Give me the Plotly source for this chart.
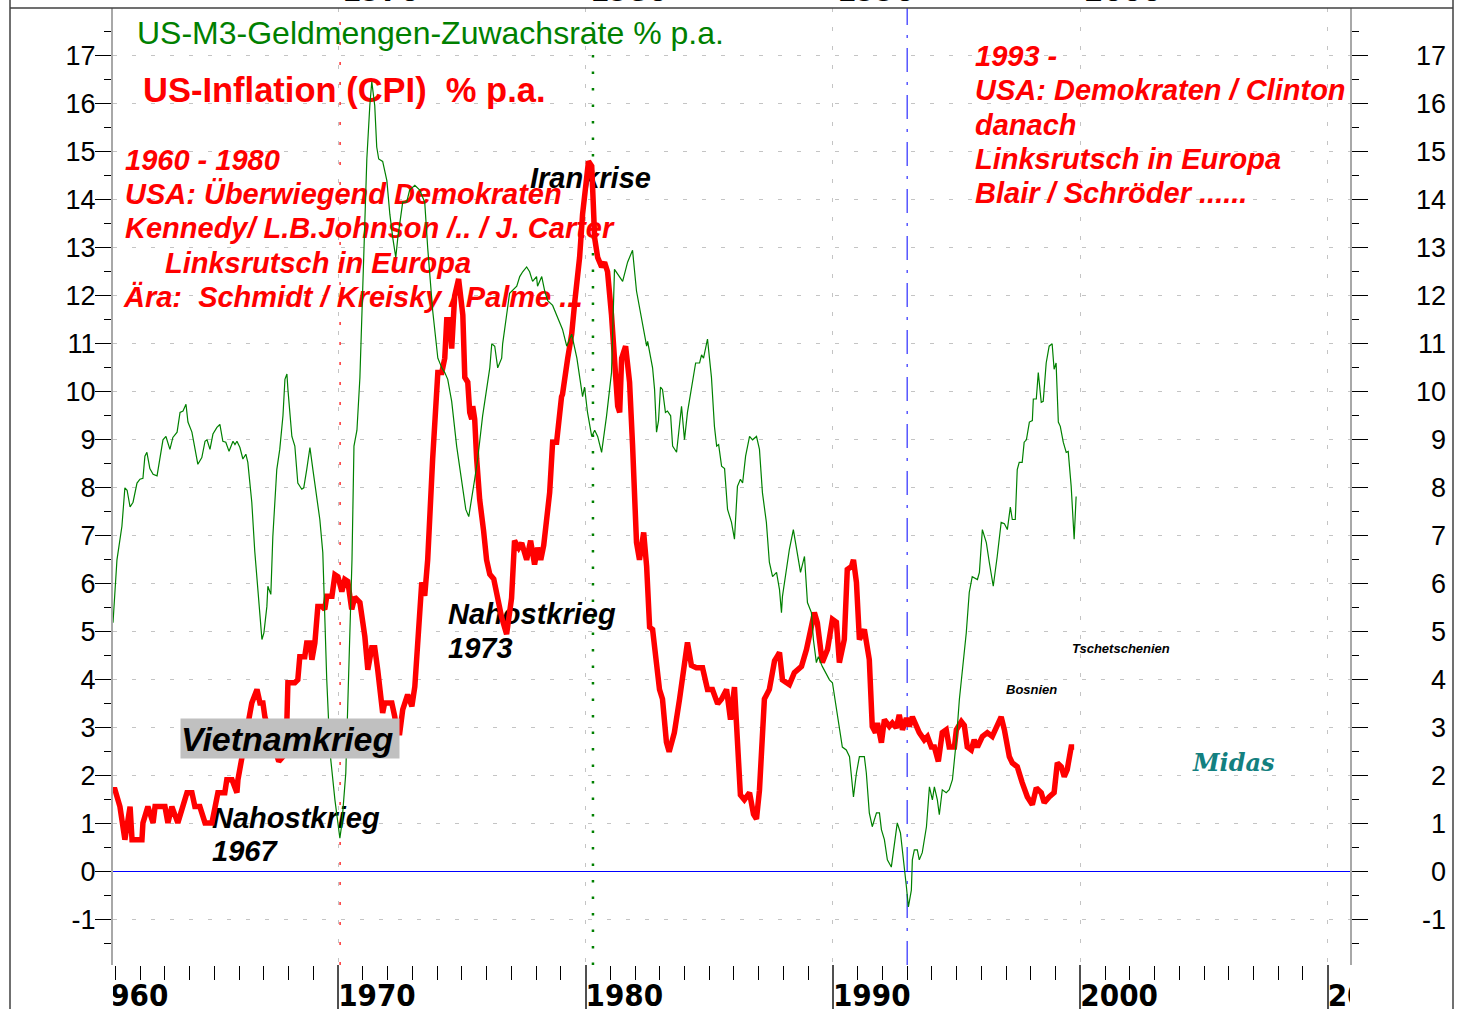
import plotly.graph_objects as go

# ---------------- data ----------------
cpi_years = [1960.90, 1960.98, 1961.18, 1961.38, 1961.59, 1961.67, 1962.07, 1962.11, 1962.31, 1962.52,
             1962.60, 1963.00, 1963.12, 1963.28, 1963.52, 1963.69, 1963.89, 1964.09, 1964.21, 1964.41,
             1964.62, 1964.90, 1965.02, 1965.14, 1965.42, 1965.50, 1965.71, 1965.91, 1965.95, 1966.11,
             1966.30, 1966.51, 1966.72, 1966.84, 1966.96, 1967.04, 1967.35, 1967.60, 1967.77, 1967.93,
             1967.97, 1968.25, 1968.37, 1968.45, 1968.65, 1968.73, 1968.86, 1968.94, 1969.06, 1969.18,
             1969.34, 1969.46, 1969.54, 1969.75, 1969.87, 1969.99, 1970.15, 1970.27, 1970.39, 1970.55,
             1970.67, 1970.88, 1971.08, 1971.20, 1971.36, 1971.48, 1971.60, 1971.80, 1971.88, 1972.17,
             1972.29, 1972.37, 1972.49, 1972.61, 1972.81, 1972.98, 1973.10, 1973.30, 1973.38, 1973.50,
             1973.62, 1973.82, 1974.03, 1974.19, 1974.31, 1974.39, 1974.51, 1974.59, 1974.71, 1974.87,
             1975.04, 1975.12, 1975.24, 1975.32, 1975.40, 1975.44, 1975.52, 1975.60, 1975.72, 1975.88,
             1976.00, 1976.13, 1976.29, 1976.45, 1976.61, 1976.81, 1977.01, 1977.13, 1977.30, 1977.42,
             1977.62, 1977.78, 1977.94, 1978.06, 1978.19, 1978.31, 1978.43, 1978.55, 1978.67, 1978.83,
             1979.03, 1979.07, 1979.28, 1979.44, 1979.57, 1979.65, 1979.76, 1979.88, 1980.04, 1980.12,
             1980.25, 1980.29, 1980.37, 1980.49, 1980.65, 1980.77, 1980.89, 1981.05, 1981.17, 1981.30,
             1981.38, 1981.46, 1981.62, 1981.70, 1981.78, 1981.90, 1982.06, 1982.18, 1982.35, 1982.47,
             1982.59, 1982.71, 1982.91, 1982.99, 1983.11, 1983.27, 1983.38, 1983.59, 1983.80, 1983.96,
             1984.12, 1984.28, 1984.48, 1984.73, 1984.93, 1985.13, 1985.34, 1985.50, 1985.70, 1985.86,
             1986.02, 1986.10, 1986.18, 1986.26, 1986.42, 1986.63, 1986.79, 1986.91, 1987.03, 1987.23,
             1987.43, 1987.64, 1987.76, 1987.84, 1987.96, 1988.24, 1988.44, 1988.73, 1988.93, 1989.25,
             1989.37, 1989.57, 1989.78, 1989.98, 1990.14, 1990.26, 1990.46, 1990.58, 1990.75, 1990.83,
             1990.95, 1991.07, 1991.27, 1991.47, 1991.59, 1991.72, 1991.80, 1991.96, 1992.08, 1992.28,
             1992.40, 1992.56, 1992.68, 1992.81, 1992.97, 1993.09, 1993.21, 1993.37, 1993.49, 1993.69,
             1993.82, 1993.98, 1994.10, 1994.26, 1994.42, 1994.58, 1994.70, 1994.91, 1994.99, 1995.19,
             1995.31, 1995.43, 1995.59, 1995.71, 1995.84, 1996.04, 1996.24, 1996.44, 1996.60, 1996.80,
             1996.93, 1997.13, 1997.25, 1997.45, 1997.65, 1997.86, 1998.06, 1998.22, 1998.42, 1998.54,
             1998.74, 1998.94, 1999.07, 1999.23, 1999.35, 1999.47, 1999.63, 1999.75]
cpi_values = [1.71, 1.71, 1.36, 0.67, 1.36, 0.67, 0.67, 1.02, 1.36, 1.02,
              1.36, 1.36, 1.02, 1.36, 1.02, 1.36, 1.65, 1.65, 1.36, 1.36,
              1.02, 1.02, 1.36, 1.65, 1.65, 1.92, 1.92, 1.65, 1.92, 2.34,
              2.90, 3.52, 3.80, 3.52, 3.52, 3.23, 2.70, 2.30, 2.40, 3.17,
              3.94, 3.94, 4.00, 4.48, 4.48, 4.77, 4.77, 4.42, 4.77, 5.53,
              5.53, 5.47, 5.74, 5.74, 6.19, 6.15, 5.84, 6.09, 6.05, 5.47,
              5.72, 5.61, 4.90, 4.21, 4.67, 4.67, 4.21, 3.31, 3.52, 3.52,
              3.23, 2.90, 2.90, 3.38, 3.69, 3.45, 3.86, 5.67, 6.03, 5.75,
              6.50, 8.60, 10.40, 10.40, 10.70, 11.50, 11.50, 10.90, 12.00, 12.35,
              11.60, 10.30, 10.20, 9.57, 9.43, 9.70, 9.43, 8.60, 7.76, 7.10,
              6.50, 6.20, 6.10, 5.70, 5.30, 4.95, 5.70, 6.90, 6.75, 6.85,
              6.50, 6.90, 6.40, 6.75, 6.50, 6.80, 7.30, 7.90, 8.95, 8.95,
              9.90, 9.95, 10.70, 11.20, 11.90, 12.20, 12.80, 13.70, 14.50, 14.80,
              14.70, 14.30, 13.20, 12.80, 12.60, 12.70, 12.50, 11.60, 10.50, 9.70,
              9.57, 10.70, 10.95, 10.60, 10.20, 8.90, 6.86, 6.50, 7.07, 6.36,
              5.10, 5.05, 4.20, 3.80, 3.60, 2.70, 2.50, 2.90, 3.60, 4.20,
              4.78, 4.30, 4.25, 4.25, 3.80, 3.80, 3.50, 3.60, 3.80, 3.17,
              3.85, 3.10, 2.20, 1.60, 1.50, 1.65, 1.20, 1.10, 1.70, 3.60,
              3.80, 4.40, 4.50, 4.57, 4.00, 3.90, 4.15, 4.28, 4.63, 5.40,
              5.19, 4.36, 4.63, 5.26, 5.20, 4.36, 4.84, 6.30, 6.36, 6.50,
              6.03, 4.84, 5.05, 4.42, 3.03, 2.90, 3.10, 2.69, 3.17, 3.03,
              3.10, 3.00, 3.27, 2.96, 3.20, 3.03, 3.23, 3.03, 2.90, 2.75,
              2.82, 2.60, 2.60, 2.30, 2.90, 2.96, 2.60, 2.60, 2.96, 3.13,
              3.05, 2.60, 2.54, 2.75, 2.60, 2.82, 2.90, 2.82, 3.03, 3.23,
              2.96, 2.40, 2.27, 2.19, 1.86, 1.56, 1.40, 1.75, 1.65, 1.44,
              1.56, 1.65, 2.27, 2.19, 1.98, 2.13, 2.60, 2.60]

m3_years = [1960.90, 1961.06, 1961.26, 1961.38, 1961.47, 1961.59, 1961.71, 1961.87, 1961.99, 1962.11,
            1962.19, 1962.27, 1962.39, 1962.52, 1962.68, 1962.80, 1962.92, 1963.04, 1963.20, 1963.32,
            1963.49, 1963.61, 1963.73, 1963.85, 1963.93, 1964.09, 1964.21, 1964.33, 1964.49, 1964.62,
            1964.70, 1964.82, 1964.94, 1965.10, 1965.22, 1965.34, 1965.46, 1965.59, 1965.75, 1965.83,
            1965.91, 1966.03, 1966.15, 1966.27, 1966.35, 1966.51, 1966.63, 1966.76, 1966.92, 1967.00,
            1967.12, 1967.16, 1967.28, 1967.36, 1967.52, 1967.64, 1967.77, 1967.85, 1967.93, 1967.97,
            1968.13, 1968.25, 1968.37, 1968.53, 1968.61, 1968.73, 1968.86, 1968.98, 1969.14, 1969.26,
            1969.38, 1969.54, 1969.67, 1969.87, 1970.07, 1970.15, 1970.31, 1970.56, 1970.64, 1970.76,
            1970.88, 1971.00, 1971.16, 1971.28, 1971.36, 1971.48, 1971.56, 1971.64, 1971.80, 1971.97,
            1972.09, 1972.21, 1972.33, 1972.41, 1972.57, 1972.61, 1972.77, 1972.89, 1973.10, 1973.30,
            1973.50, 1973.62, 1973.82, 1974.03, 1974.19, 1974.31, 1974.43, 1974.59, 1974.79, 1974.99,
            1975.16, 1975.28, 1975.40, 1975.52, 1975.64, 1975.84, 1976.13, 1976.21, 1976.33, 1976.45,
            1976.61, 1976.65, 1976.81, 1976.93, 1977.22, 1977.34, 1977.46, 1977.62, 1977.74, 1977.86,
            1978.02, 1978.06, 1978.23, 1978.35, 1978.47, 1978.67, 1978.95, 1979.07, 1979.24, 1979.44,
            1979.65, 1979.76, 1979.88, 1979.96, 1980.08, 1980.25, 1980.37, 1980.49, 1980.65, 1980.85,
            1981.05, 1981.17, 1981.38, 1981.50, 1981.70, 1981.90, 1982.06, 1982.30, 1982.47, 1982.51,
            1982.71, 1982.79, 1982.87, 1982.95, 1983.03, 1983.11, 1983.23, 1983.31, 1983.44, 1983.52,
            1983.68, 1983.88, 1984.00, 1984.12, 1984.28, 1984.32, 1984.45, 1984.61, 1984.69, 1984.77,
            1984.93, 1985.09, 1985.21, 1985.30, 1985.38, 1985.50, 1985.62, 1985.74, 1985.90, 1986.02,
            1986.14, 1986.26, 1986.35, 1986.47, 1986.63, 1986.75, 1986.91, 1987.03, 1987.15, 1987.31,
            1987.43, 1987.56, 1987.72, 1987.84, 1987.92, 1987.96, 1988.12, 1988.24, 1988.40, 1988.52,
            1988.69, 1988.85, 1988.97, 1989.13, 1989.21, 1989.33, 1989.41, 1989.57, 1989.86, 1989.98,
            1990.18, 1990.38, 1990.54, 1990.67, 1990.83, 1990.95, 1991.07, 1991.27, 1991.35, 1991.47,
            1991.59, 1991.76, 1991.88, 1991.96, 1992.08, 1992.20, 1992.36, 1992.48, 1992.60, 1992.73,
            1992.85, 1992.97, 1993.05, 1993.17, 1993.21, 1993.29, 1993.41, 1993.49, 1993.61, 1993.78,
            1993.90, 1994.02, 1994.10, 1994.22, 1994.30, 1994.42, 1994.58, 1994.70, 1994.83, 1994.99,
            1995.11, 1995.23, 1995.39, 1995.51, 1995.63, 1995.84, 1995.92, 1996.04, 1996.20, 1996.32,
            1996.48, 1996.64, 1996.80, 1996.93, 1997.05, 1997.17, 1997.25, 1997.37, 1997.45, 1997.53,
            1997.65, 1997.73, 1997.82, 1997.94, 1998.06, 1998.10, 1998.22, 1998.30, 1998.42, 1998.50,
            1998.62, 1998.74, 1998.86, 1998.94, 1999.02, 1999.11, 1999.19, 1999.31, 1999.43, 1999.51,
            1999.63, 1999.75, 1999.83]
m3_values = [5.19, 6.50, 7.20, 8.00, 7.95, 7.60, 7.70, 8.10, 8.18, 8.20,
             8.66, 8.74, 8.40, 8.28, 8.25, 8.60, 9.00, 9.07, 8.80, 9.05,
             9.16, 9.57, 9.60, 9.74, 9.37, 9.16, 8.80, 8.49, 8.63, 8.97,
             9.00, 8.80, 9.12, 9.26, 9.32, 8.97, 8.95, 8.76, 8.97, 8.90,
             8.97, 8.84, 8.60, 8.70, 8.53, 7.70, 6.68, 5.82, 4.84, 4.98,
             5.53, 5.95, 5.78, 6.98, 8.38, 8.80, 9.50, 10.26, 10.37, 10.05,
             9.07, 8.87, 8.10, 7.97, 8.00, 8.38, 8.84, 8.38, 7.82, 7.34,
             6.65, 4.00, 2.50, 1.50, 0.70, 1.00, 2.06, 6.50, 8.87, 9.20,
             10.30, 12.35, 14.85, 15.96, 16.46, 15.96, 15.10, 14.85, 14.80, 14.40,
             13.70, 13.20, 12.80, 13.20, 13.80, 13.95, 13.95, 14.20, 14.30, 14.20,
             13.95, 13.00, 11.70, 10.70, 10.50, 10.40, 10.26, 9.80, 8.87, 8.20,
             7.55, 7.40, 7.76, 8.18, 8.60, 9.50, 10.50, 11.00, 10.95, 10.50,
             10.70, 11.00, 11.60, 12.05, 12.20, 12.40, 12.50, 12.60, 12.50, 12.30,
             12.40, 12.20, 12.40, 12.10, 11.90, 11.80, 11.45, 11.30, 10.95, 11.20,
             10.70, 10.30, 9.90, 10.10, 9.57, 9.07, 9.20, 9.07, 8.74, 9.50,
             10.40, 12.55, 12.40, 12.30, 12.70, 12.95, 12.10, 11.45, 10.95, 11.05,
             10.50, 10.05, 9.16, 9.40, 10.10, 10.05, 9.57, 9.60, 9.50, 8.87,
             8.74, 9.70, 9.00, 9.57, 10.10, 10.20, 10.60, 10.60, 10.77, 10.70,
             11.10, 10.30, 9.28, 8.87, 8.90, 8.45, 8.40, 7.55, 7.28, 6.93,
             8.03, 8.18, 8.10, 8.66, 9.07, 9.00, 9.07, 8.80, 7.90, 7.28,
             6.45, 6.15, 6.24, 5.88, 5.40, 5.74, 6.36, 6.72, 7.13, 6.72,
             6.24, 6.57, 5.61, 5.40, 4.84, 4.36, 4.48, 4.28, 4.00, 3.94,
             3.31, 2.60, 2.54, 2.40, 1.56, 2.06, 2.40, 2.40, 2.06, 1.23,
             0.94, 1.23, 1.23, 0.88, 0.67, 0.25, 0.10, 0.52, 1.02, 0.81,
             0.31, -0.31, -0.73, -0.38, 0.25, 0.46, 0.46, 0.25, 0.40, 0.94,
             1.77, 1.50, 1.77, 1.50, 1.19, 1.71, 1.65, 1.71, 1.92, 2.75,
             3.59, 4.15, 4.98, 5.82, 6.15, 6.09, 6.24, 7.13, 6.86, 6.45,
             5.95, 6.57, 7.28, 7.25, 7.13, 7.60, 7.34, 7.34, 8.38, 8.53,
             8.53, 8.95, 9.00, 9.37, 9.40, 9.85, 9.85, 10.40, 9.78, 9.80,
             10.60, 10.95, 11.00, 10.47, 10.60, 9.37, 9.28, 8.95, 8.74, 8.76,
             8.03, 6.93, 7.82]

y_tick_values = list(range(-1, 18))
y_tick_labels = [str(v) for v in y_tick_values]
decade_values = [1960, 1970, 1980, 1990, 2000, 2010]
decade_labels = ["1960", "1970", "1980", "1990", "2000", "2010"]
top_decades = [1970, 1980, 1990, 2000]
event_years = {"red": 1970.08, "green": 1980.30, "blue": 1993.00}

# ---------------- geometry ----------------
W, H = 1468, 1009
PL, PR, PT, PB = 113, 1350, 8, 965          # plot area in pixels
X0, X1 = 1960.9, 2010.9
Y0, Y1 = -1.94, 17.995
FONT = "Liberation Sans, Arial, sans-serif"
COND = "DejaVu Sans Condensed, Liberation Sans Narrow, Liberation Sans"
DY = 3  # small vertical correction for text traces


def xd(px):
    return X0 + (px - PL) / (PR - PL) * (X1 - X0)


def yd(py):
    return Y1 - (py + DY - PT) / (PB - PT) * (Y1 - Y0)


fig = go.Figure()

# ---- text drawn underneath the curves (as in the reference) ----
RED = "#ff0000"
texts = [
    ("US-M3-Geldmengen-Zuwachsrate % p.a.", 137, 33, 32, "#008000", "normal", "normal"),
    ("US-Inflation (CPI) \u00a0% p.a.", 143, 90, 34.5, RED, "bold", "normal"),
    ("1960 - 1980", 125, 160, 29, RED, "bold", "italic"),
    ("USA: Überwiegend Demokraten", 125, 194, 29, RED, "bold", "italic"),
    ("Kennedy/ L.B.Johnson /.. / J. Carter", 125, 228, 29, RED, "bold", "italic"),
    ("Linksrutsch in Europa", 165, 263, 29, RED, "bold", "italic"),
    ("Ära: \u00a0Schmidt / Kreisky / Palme ...", 124, 297, 29, RED, "bold", "italic"),
    ("1993 -", 975, 56, 29, RED, "bold", "italic"),
    ("USA: Demokraten / Clinton", 975, 90, 29, RED, "bold", "italic"),
    ("danach", 975, 125, 29, RED, "bold", "italic"),
    ("Linksrutsch in Europa", 975, 159, 29, RED, "bold", "italic"),
    ("Blair / Schröder ......", 975, 193, 29, RED, "bold", "italic"),
    ("Irankrise", 530, 178, 29, "#000000", "bold", "italic"),
    ("Nahostkrieg", 448, 614, 29, "#000000", "bold", "italic"),
    ("1973", 448, 648, 29, "#000000", "bold", "italic"),
    ("Nahostkrieg", 212, 818, 29, "#000000", "bold", "italic"),
    ("1967", 212, 851, 29, "#000000", "bold", "italic"),
    ("Tschetschenien", 1072, 647, 13, "#000000", "bold", "italic"),
    ("Bosnien", 1006, 688, 13, "#000000", "bold", "italic"),
]
for t, px, py, size, color, weight, style in texts:
    fig.add_trace(go.Scatter(
        x=[xd(px)], y=[yd(py)], mode="text", text=[t], textposition="middle right",
        textfont=dict(family=FONT, size=size, color=color, weight=weight, style=style),
        hoverinfo="skip", showlegend=False, cliponaxis=False))

# ---- the two series ----
fig.add_trace(go.Scatter(x=cpi_years, y=cpi_values, mode="lines",
                         line=dict(color="#ff0000", width=5.5), hoverinfo="skip", showlegend=False))
fig.add_trace(go.Scatter(x=m3_years, y=m3_values, mode="lines",
                         line=dict(color="#008000", width=1.2), hoverinfo="skip", showlegend=False))

# ---- invisible trace for right axis ----
fig.add_trace(go.Scatter(x=[X0], y=[0], yaxis="y2", mode="markers", marker=dict(opacity=0),
                         hoverinfo="skip", showlegend=False))

# ---- decade labels in the bottom strip (clipped like the original) ----
fig.add_trace(go.Scatter(
    x=decade_values, y=[0.24] * len(decade_values), xaxis="x2", yaxis="y3", mode="text",
    text=decade_labels, textposition="middle right", cliponaxis=True,
    textfont=dict(family=COND, size=31, color="#000000", weight="bold"),
    hoverinfo="skip", showlegend=False))

grid_dash = "4px,15px"
dom_x = [PL / W, PR / W]
dom_y = [1 - PB / H, 1 - PT / H]

fig.update_layout(
    width=W, height=H, autosize=False,
    margin=dict(l=0, r=0, t=0, b=0, pad=0),
    paper_bgcolor="white", plot_bgcolor="rgba(0,0,0,0)",
    font=dict(family=FONT, color="black"),
    xaxis=dict(domain=dom_x, range=[X0, X1], anchor="y", showgrid=True, gridcolor="#c4c4c4",
               griddash=grid_dash, gridwidth=1, tick0=1960, dtick=10, ticks="outside", ticklen=16,
               tickcolor="#000000", tickwidth=1, showticklabels=False, zeroline=False, showline=False,
               minor=dict(dtick=1, tick0=1960, ticks="outside", ticklen=14, tickcolor="#000000",
                          showgrid=False)),
    yaxis=dict(domain=dom_y, range=[Y0, Y1], anchor="x", tickmode="array", tickvals=y_tick_values,
               ticktext=y_tick_labels, ticks="outside", ticklen=16, tickcolor="#000000",
               tickfont=dict(family=FONT, size=27, color="black"), ticklabelstandoff=-6,
               showgrid=True, gridcolor="#c4c4c4", griddash=grid_dash, gridwidth=1,
               zeroline=True, zerolinecolor="#0000ff", zerolinewidth=1,
               showline=True, linecolor="#a8a8a8", linewidth=2,
               minor=dict(dtick=0.5, tick0=0, ticks="outside", ticklen=7, tickcolor="#000000",
                          showgrid=False)),
    yaxis2=dict(overlaying="y", side="right", anchor="x", range=[Y0, Y1], tickmode="array",
                tickvals=y_tick_values, ticks="outside", ticklen=16, tickcolor="#000000",
                showticklabels=False, showgrid=False, zeroline=False,
                showline=True, linecolor="#a8a8a8", linewidth=2,
                minor=dict(dtick=0.5, tick0=0, ticks="outside", ticklen=7, tickcolor="#000000",
                           showgrid=False)),
    xaxis2=dict(domain=dom_x, range=[X0, X1], anchor="y3", showgrid=True, tick0=1960, dtick=10,
                gridcolor="#505050", gridwidth=1.5, showticklabels=False, ticks="", zeroline=False,
                showline=False),
    yaxis3=dict(domain=[0, 1 - PB / H], range=[0, 1], anchor="x2", visible=False),
    xaxis3=dict(domain=dom_x, range=[X0, X1], anchor="y4", showgrid=True, tick0=1960, dtick=10,
                gridcolor="#505050", gridwidth=1.5, showticklabels=False, ticks="", zeroline=False,
                showline=False),
    yaxis4=dict(domain=[1 - PT / H, 1], range=[0, 1], anchor="x3", visible=False),
)

# ---- event lines ----
fig.add_shape(type="line", xref="x", yref="paper", x0=event_years["red"], x1=event_years["red"],
              y0=dom_y[0], y1=dom_y[1], line=dict(color="#ff3030", width=1.5, dash="3px,17px"),
              layer="below")
fig.add_shape(type="line", xref="x", yref="paper", x0=event_years["green"], x1=event_years["green"],
              y0=dom_y[0], y1=dom_y[1], line=dict(color="#008000", width=2.5, dash="2.5px,14px"),
              layer="below")
fig.add_shape(type="line", xref="x", yref="paper", x0=event_years["blue"], x1=event_years["blue"],
              y0=dom_y[0], y1=dom_y[1], line=dict(color="#0000ff", width=1, dash="24px,10px,3px,10px"),
              layer="below")

# ---- outer frame ----
frame = dict(color="#404040", width=1.5)
fig.add_shape(type="line", xref="paper", yref="paper", x0=10 / W, x1=10 / W, y0=0, y1=1, line=frame)
fig.add_shape(type="line", xref="paper", yref="paper", x0=1453 / W, x1=1453 / W, y0=0, y1=1, line=frame)
fig.add_shape(type="line", xref="paper", yref="paper", x0=10 / W, x1=1453 / W,
              y0=1 - PT / H, y1=1 - PT / H, line=frame)

# ---- top strip decade labels, mostly cut off by the page edge ----
for d in top_decades:
    fig.add_annotation(x=d, xref="x", xshift=2, y=1 + 10 / H, yref="paper", xanchor="left",
                       yanchor="middle", text=str(d), showarrow=False,
                       font=dict(family=COND, size=31, color="black", weight="bold"))

# ---- right axis labels (right aligned at the frame) ----
for v, lab in zip(y_tick_values, y_tick_labels):
    fig.add_annotation(x=1448 / W, xref="paper", y=v, yref="y", text=lab, showarrow=False,
                       xanchor="right", yanchor="middle", font=dict(family=FONT, size=27, color="black"))

# ---- Vietnamkrieg label on grey box (covers the curve) ----
fig.add_annotation(x=180 / W, xref="paper", y=1 - 718 / H, yref="paper", xanchor="left", yanchor="top",
                   text="<b><i>Vietnamkrieg</i></b>", showarrow=False, bgcolor="#c0c0c0",
                   width=218, height=39, align="left", borderpad=0,
                   font=dict(family=FONT, size=34, color="black"))

# ---- Midas logo text ----
fig.add_annotation(x=1190 / W, xref="paper", y=1 - 762 / H, yref="paper", xanchor="left",
                   yanchor="middle", text="<b><i>Midas</i></b>", showarrow=False,
                   font=dict(family="DejaVu Serif, serif", size=24, color="#138080"))

fig.write_html("out.html", config={"displayModeBar": False},
               post_script="document.body.style.margin='0px';")
